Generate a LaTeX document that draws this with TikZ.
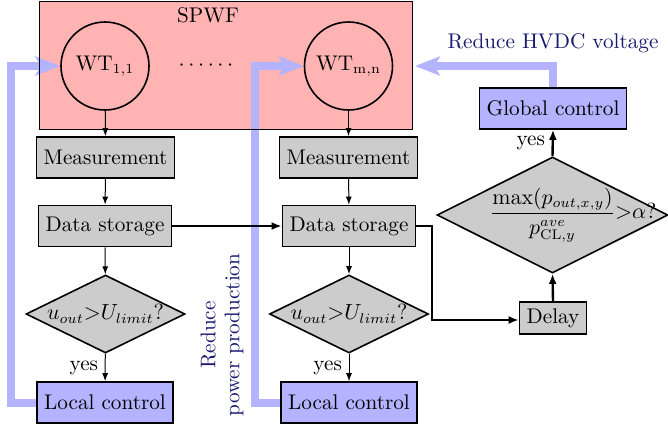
\documentclass[tikz,border=0pt]{standalone}
\usepackage{amsmath}
\usetikzlibrary{shapes.geometric,arrows.meta}
\definecolor{pinkf}{RGB}{255,179,179}
\definecolor{bluef}{RGB}{179,179,255}
\definecolor{greyf}{RGB}{204,204,204}
\definecolor{navy}{RGB}{25,25,112}
\pgfdeclarelayer{bg}
\pgfdeclarelayer{mid}
\pgfsetlayers{bg,mid,main}
\begin{document}
\begin{tikzpicture}[x=0.5pt,y=-0.5pt,
  font=\fontsize{10.6}{12}\selectfont,
  box/.style={draw,line width=0.8pt,fill=greyf,minimum height=20.5pt,inner xsep=3.6pt,inner ysep=0pt},
  ctrl/.style={box,fill=bluef},
  dia/.style={draw,line width=0.8pt,fill=greyf,diamond,aspect=2,inner sep=0pt,minimum width=79.5pt,minimum height=39pt},
  wt/.style={draw,circle,line width=0.8pt,minimum size=44pt,inner sep=0pt},
  arr/.style={line width=0.5pt,-{Latex[length=4pt,width=3pt]}},
  tarr/.style={line width=1.2pt,-{Latex[length=5pt,width=4pt]}},
  barr/.style={line width=4pt,draw=bluef,line join=miter,-{Stealth[length=12.5pt,width=9.5pt,inset=3pt,fill=bluef]}},
  note/.style={text=navy}
]
\useasboundingbox (0,0) rectangle (668,430);
\begin{pgfonlayer}{bg}
\node[fill=pinkf,minimum width=186pt,minimum height=63.5pt,inner sep=0pt] (spwf) at (226,65.5) {};
\end{pgfonlayer}
\draw[line width=0.8pt] (spwf.north west) rectangle (spwf.south east);
\node (spwft) at (208,15) {SPWF};
\node[wt] (wt11) at (105,66) {WT$_{\mathrm{1,1}}$};
\node[wt] (wtmn) at (348.5,66) {WT$_{\mathrm{m,n}}$};
\node (dots) at (206,66) {$\cdotp\cdotp\cdotp\cdotp\cdotp\cdotp$};

\node[box] (measL) at (105.5,157.5) {Measurement};
\node[box] (dsL) at (105,226) {Data storage};
\node[dia] (diaL) at (105.5,314) {$u_{out}{>}U_{limit}?$};
\node[ctrl] (lcL) at (105,402.5) {Local control};

\node[box] (measR) at (348.5,157.5) {Measurement};
\node[box] (dsR) at (349,226) {Data storage};
\node[dia] (diaR) at (349,314) {$u_{out}{>}U_{limit}?$};
\node[ctrl] (lcR) at (349,402.5) {Local control};

\node[box,minimum height=16pt] (delay) at (553,318) {Delay};
\node[dia,minimum width=115.5pt,minimum height=58pt] (cond) at (552.5,215) {};
\node (condt) at (cond) {$\dfrac{\max(p_{out,x,y})}{p^{ave}_{\mathrm{CL},y}}\rlap{${>}\alpha?$}$};
\node[ctrl] (gc) at (553,108.5) {Global control};

\node[note] (hv) at (553,43) {Reduce HVDC voltage};
\node[note,rotate=90,align=center] (rpp) at (222,335) {Reduce\\power production};

\coordinate (hvtip) at (415,66);
\coordinate (bend) at (432,320);

\begin{pgfonlayer}{mid}
\draw[barr] (lcL.west) -- ++(-25,0) |- (wt11.west);
\draw[barr] (lcR.west) -- ++(-25,0) |- (wtmn.west);
\draw[barr] (gc.north) |- (hvtip);
\end{pgfonlayer}

\draw[arr] (wt11) -- (measL);
\draw[arr] (measL) -- (dsL);
\draw[arr] (dsL) -- (diaL);
\draw[arr] (diaL) -- node[left]{yes} (lcL);
\draw[arr] (wtmn) -- (measR);
\draw[arr] (measR) -- (dsR);
\draw[arr] (dsR) -- (diaR);
\draw[arr] (diaR) -- node[left]{yes} (lcR);

\draw[tarr] (dsL.east) -- (dsR.west);
\draw[tarr] (dsR.east) -| (bend) -- (bend -| delay.west);
\draw[tarr] (delay.north) -- (cond.south);
\draw[tarr] (cond.north) -- node[left]{yes} (gc.south);
\end{tikzpicture}
\end{document}
